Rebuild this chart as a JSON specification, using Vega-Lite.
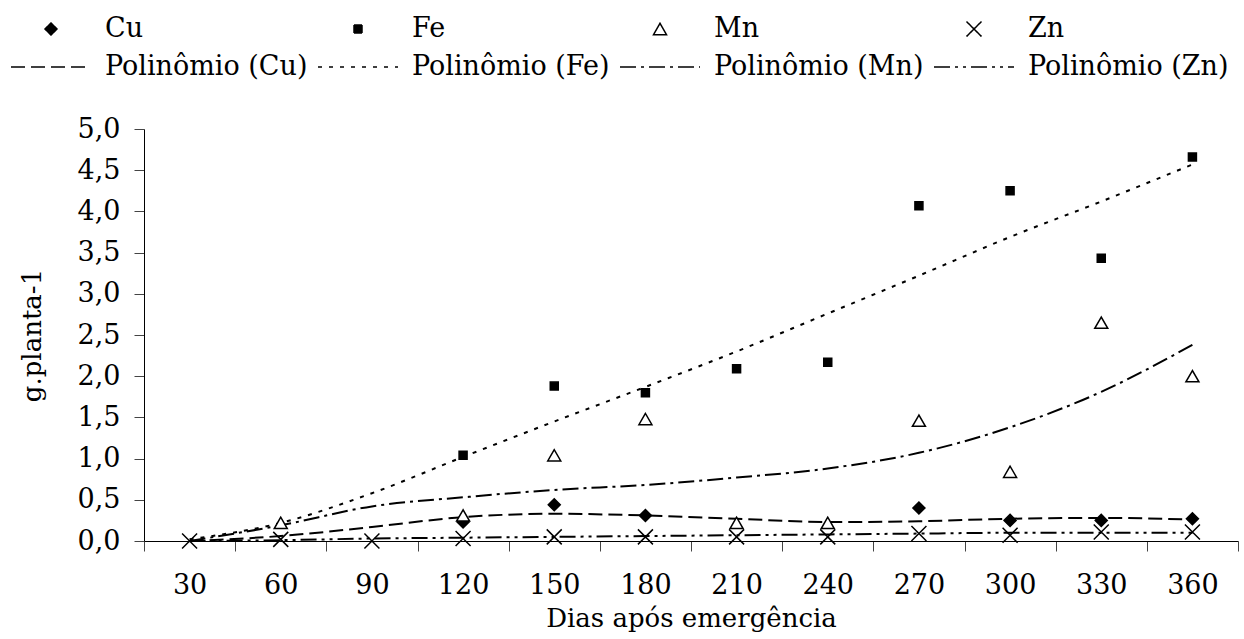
{
  "$schema": "https://vega.github.io/schema/vega-lite/v6.json",
  "width": 1094,
  "height": 412,
  "autosize": "none",
  "padding": {"left": 144, "top": 129, "right": 6, "bottom": 98},
  "background": "white",
  "config": {
    "view": {"stroke": null},
    "font": "DejaVu Serif",
    "axis": {"labelFont": "DejaVu Serif", "titleFont": "DejaVu Serif", "labelFontSize": 27, "titleFontSize": 26, "titleFontWeight": "normal", "labelColor": "black", "titleColor": "black", "domainColor": "black", "tickColor": "#444", "grid": false, "tickSize": 10, "domainWidth": 1, "tickWidth": 1},
    "legend": {"labelFont": "DejaVu Serif"}
  },
  "datasets": {
    "pts": [
      {"x": 120, "v": 0.23, "s": "Cu"}, {"x": 150, "v": 0.44, "s": "Cu"}, {"x": 180, "v": 0.31, "s": "Cu"}, {"x": 270, "v": 0.40, "s": "Cu"}, {"x": 300, "v": 0.25, "s": "Cu"}, {"x": 330, "v": 0.25, "s": "Cu"}, {"x": 360, "v": 0.27, "s": "Cu"},
      {"x": 120, "v": 1.04, "s": "Fe"}, {"x": 150, "v": 1.88, "s": "Fe"}, {"x": 180, "v": 1.80, "s": "Fe"}, {"x": 210, "v": 2.09, "s": "Fe"}, {"x": 240, "v": 2.17, "s": "Fe"}, {"x": 270, "v": 4.07, "s": "Fe"}, {"x": 300, "v": 4.25, "s": "Fe"}, {"x": 330, "v": 3.43, "s": "Fe"}, {"x": 360, "v": 4.66, "s": "Fe"},
      {"x": 60, "v": 0.22, "s": "Mn"}, {"x": 120, "v": 0.31, "s": "Mn"}, {"x": 150, "v": 1.04, "s": "Mn"}, {"x": 180, "v": 1.48, "s": "Mn"}, {"x": 210, "v": 0.22, "s": "Mn"}, {"x": 240, "v": 0.22, "s": "Mn"}, {"x": 270, "v": 1.46, "s": "Mn"}, {"x": 300, "v": 0.84, "s": "Mn"}, {"x": 330, "v": 2.65, "s": "Mn"}, {"x": 360, "v": 2.00, "s": "Mn"},
      {"x": 30, "v": 0.0, "s": "Zn"}, {"x": 60, "v": 0.02, "s": "Zn"}, {"x": 90, "v": 0.0, "s": "Zn"}, {"x": 120, "v": 0.03, "s": "Zn"}, {"x": 150, "v": 0.05, "s": "Zn"}, {"x": 180, "v": 0.05, "s": "Zn"}, {"x": 210, "v": 0.05, "s": "Zn"}, {"x": 240, "v": 0.05, "s": "Zn"}, {"x": 270, "v": 0.09, "s": "Zn"}, {"x": 300, "v": 0.07, "s": "Zn"}, {"x": 330, "v": 0.11, "s": "Zn"}, {"x": 360, "v": 0.11, "s": "Zn"}
    ],
    "trend": [
      {"x": 30, "v": 0.0, "s": "Polinômio (Cu)"}, {"x": 60, "v": 0.06, "s": "Polinômio (Cu)"}, {"x": 90, "v": 0.17, "s": "Polinômio (Cu)"}, {"x": 120, "v": 0.29, "s": "Polinômio (Cu)"}, {"x": 150, "v": 0.33, "s": "Polinômio (Cu)"}, {"x": 180, "v": 0.31, "s": "Polinômio (Cu)"}, {"x": 210, "v": 0.27, "s": "Polinômio (Cu)"}, {"x": 240, "v": 0.23, "s": "Polinômio (Cu)"}, {"x": 270, "v": 0.24, "s": "Polinômio (Cu)"}, {"x": 300, "v": 0.27, "s": "Polinômio (Cu)"}, {"x": 330, "v": 0.28, "s": "Polinômio (Cu)"}, {"x": 360, "v": 0.26, "s": "Polinômio (Cu)"},
      {"x": 30, "v": 0.02, "s": "Polinômio (Fe)"}, {"x": 60, "v": 0.22, "s": "Polinômio (Fe)"}, {"x": 90, "v": 0.58, "s": "Polinômio (Fe)"}, {"x": 120, "v": 1.02, "s": "Polinômio (Fe)"}, {"x": 150, "v": 1.45, "s": "Polinômio (Fe)"}, {"x": 180, "v": 1.87, "s": "Polinômio (Fe)"}, {"x": 210, "v": 2.30, "s": "Polinômio (Fe)"}, {"x": 240, "v": 2.76, "s": "Polinômio (Fe)"}, {"x": 270, "v": 3.22, "s": "Polinômio (Fe)"}, {"x": 300, "v": 3.69, "s": "Polinômio (Fe)"}, {"x": 330, "v": 4.12, "s": "Polinômio (Fe)"}, {"x": 360, "v": 4.57, "s": "Polinômio (Fe)"},
      {"x": 30, "v": 0.0, "s": "Polinômio (Mn)"}, {"x": 60, "v": 0.19, "s": "Polinômio (Mn)"}, {"x": 90, "v": 0.42, "s": "Polinômio (Mn)"}, {"x": 120, "v": 0.53, "s": "Polinômio (Mn)"}, {"x": 150, "v": 0.62, "s": "Polinômio (Mn)"}, {"x": 180, "v": 0.68, "s": "Polinômio (Mn)"}, {"x": 210, "v": 0.77, "s": "Polinômio (Mn)"}, {"x": 240, "v": 0.88, "s": "Polinômio (Mn)"}, {"x": 270, "v": 1.07, "s": "Polinômio (Mn)"}, {"x": 300, "v": 1.38, "s": "Polinômio (Mn)"}, {"x": 330, "v": 1.81, "s": "Polinômio (Mn)"}, {"x": 360, "v": 2.38, "s": "Polinômio (Mn)"},
      {"x": 30, "v": 0.0, "s": "Polinômio (Zn)"}, {"x": 60, "v": 0.01, "s": "Polinômio (Zn)"}, {"x": 90, "v": 0.03, "s": "Polinômio (Zn)"}, {"x": 120, "v": 0.04, "s": "Polinômio (Zn)"}, {"x": 150, "v": 0.05, "s": "Polinômio (Zn)"}, {"x": 180, "v": 0.06, "s": "Polinômio (Zn)"}, {"x": 210, "v": 0.07, "s": "Polinômio (Zn)"}, {"x": 240, "v": 0.08, "s": "Polinômio (Zn)"}, {"x": 270, "v": 0.09, "s": "Polinômio (Zn)"}, {"x": 300, "v": 0.10, "s": "Polinômio (Zn)"}, {"x": 330, "v": 0.10, "s": "Polinômio (Zn)"}, {"x": 360, "v": 0.10, "s": "Polinômio (Zn)"}
    ]
  },
  "encoding": {
    "x": {
      "field": "x", "type": "ordinal",
      "scale": {"domain": [30, 60, 90, 120, 150, 180, 210, 240, 270, 300, 330, 360], "paddingInner": 0, "paddingOuter": 0},
      "axis": {"title": "Dias após emergência", "labelAngle": 0, "tickBand": "extent", "labelPadding": 21, "titlePadding": 7}
    },
    "y": {
      "field": "v", "type": "quantitative",
      "scale": {"domain": [0, 5], "nice": false},
      "axis": {"title": "g.planta-1", "values": [0, 0.5, 1, 1.5, 2, 2.5, 3, 3.5, 4, 4.5, 5], "labelExpr": "replace(format(datum.value, '.1f'), '.', ',')", "labelPadding": 14, "titlePadding": 32}
    }
  },
  "layer": [
    {
      "data": {"name": "trend"},
      "mark": {"type": "line", "stroke": "black", "strokeWidth": 2, "interpolate": "monotone"},
      "encoding": {
        "strokeDash": {
          "field": "s", "type": "nominal",
          "scale": {"domain": ["Cu", "Fe", "Mn", "Zn", "Polinômio (Cu)", "Polinômio (Fe)", "Polinômio (Mn)", "Polinômio (Zn)"], "range": [[1, 0], [1, 0], [1, 0], [1, 0], [14, 6], [4, 7], [16, 5, 3, 5], [16, 5, 3, 5, 3, 5]]},
          "legend": {"title": null, "orient": "none", "legendX": -134, "legendY": -116, "direction": "horizontal", "columns": 4, "clipHeight": 32, "labelFontSize": 27, "labelColor": "black", "labelOffset": 13, "columnPadding": 9, "rowPadding": 6, "labelLimit": 400, "encode": {"symbols": {"update": {"stroke": {"value": "black"}, "strokeWidth": {"value": 2.5}, "opacity": {"value": 1}}}}}
        }
      }
    },
    {
      "data": {"name": "pts"},
      "mark": {"type": "point", "filled": true, "stroke": "black", "strokeWidth": 1.5, "opacity": 1},
      "encoding": {
        "shape": {
          "field": "s", "type": "nominal",
          "scale": {"domain": ["Cu", "Fe", "Mn", "Zn", "Polinômio (Cu)", "Polinômio (Fe)", "Polinômio (Mn)", "Polinômio (Zn)"], "range": ["diamond", "square", "triangle-up", "M-1,-1L1,1M1,-1L-1,1", "stroke", "stroke", "stroke", "stroke"]},
          "legend": {"title": null, "orient": "none", "legendX": -134, "legendY": -116, "direction": "horizontal", "columns": 4, "clipHeight": 32, "labelFontSize": 27, "labelColor": "black", "labelOffset": 13, "columnPadding": 9, "rowPadding": 6, "labelLimit": 400, "encode": {"symbols": {"update": {"stroke": {"value": "black"}, "strokeWidth": {"value": 2.5}, "opacity": {"value": 1}}}}}
        },
        "fill": {
          "field": "s", "type": "nominal",
          "scale": {"domain": ["Cu", "Fe", "Mn", "Zn", "Polinômio (Cu)", "Polinômio (Fe)", "Polinômio (Mn)", "Polinômio (Zn)"], "range": ["black", "black", "white", "transparent", "transparent", "transparent", "transparent", "transparent"]},
          "legend": {"title": null, "orient": "none", "legendX": -134, "legendY": -116, "direction": "horizontal", "columns": 4, "clipHeight": 32, "labelFontSize": 27, "labelColor": "black", "labelOffset": 13, "columnPadding": 9, "rowPadding": 6, "labelLimit": 400, "encode": {"symbols": {"update": {"stroke": {"value": "black"}, "strokeWidth": {"value": 2.5}, "opacity": {"value": 1}}}}}
        },
        "size": {
          "field": "s", "type": "nominal",
          "scale": {"type": "ordinal", "domain": ["Cu", "Fe", "Mn", "Zn", "Polinômio (Cu)", "Polinômio (Fe)", "Polinômio (Mn)", "Polinômio (Zn)"], "range": [144, 64, 169, 225, 6400, 6400, 6400, 6400]},
          "legend": {"title": null, "orient": "none", "legendX": -134, "legendY": -116, "direction": "horizontal", "columns": 4, "clipHeight": 32, "labelFontSize": 27, "labelColor": "black", "labelOffset": 13, "columnPadding": 9, "rowPadding": 6, "labelLimit": 400, "encode": {"symbols": {"update": {"stroke": {"value": "black"}, "strokeWidth": {"value": 2.5}, "opacity": {"value": 1}}}}}
        }
      }
    }
  ]
}
